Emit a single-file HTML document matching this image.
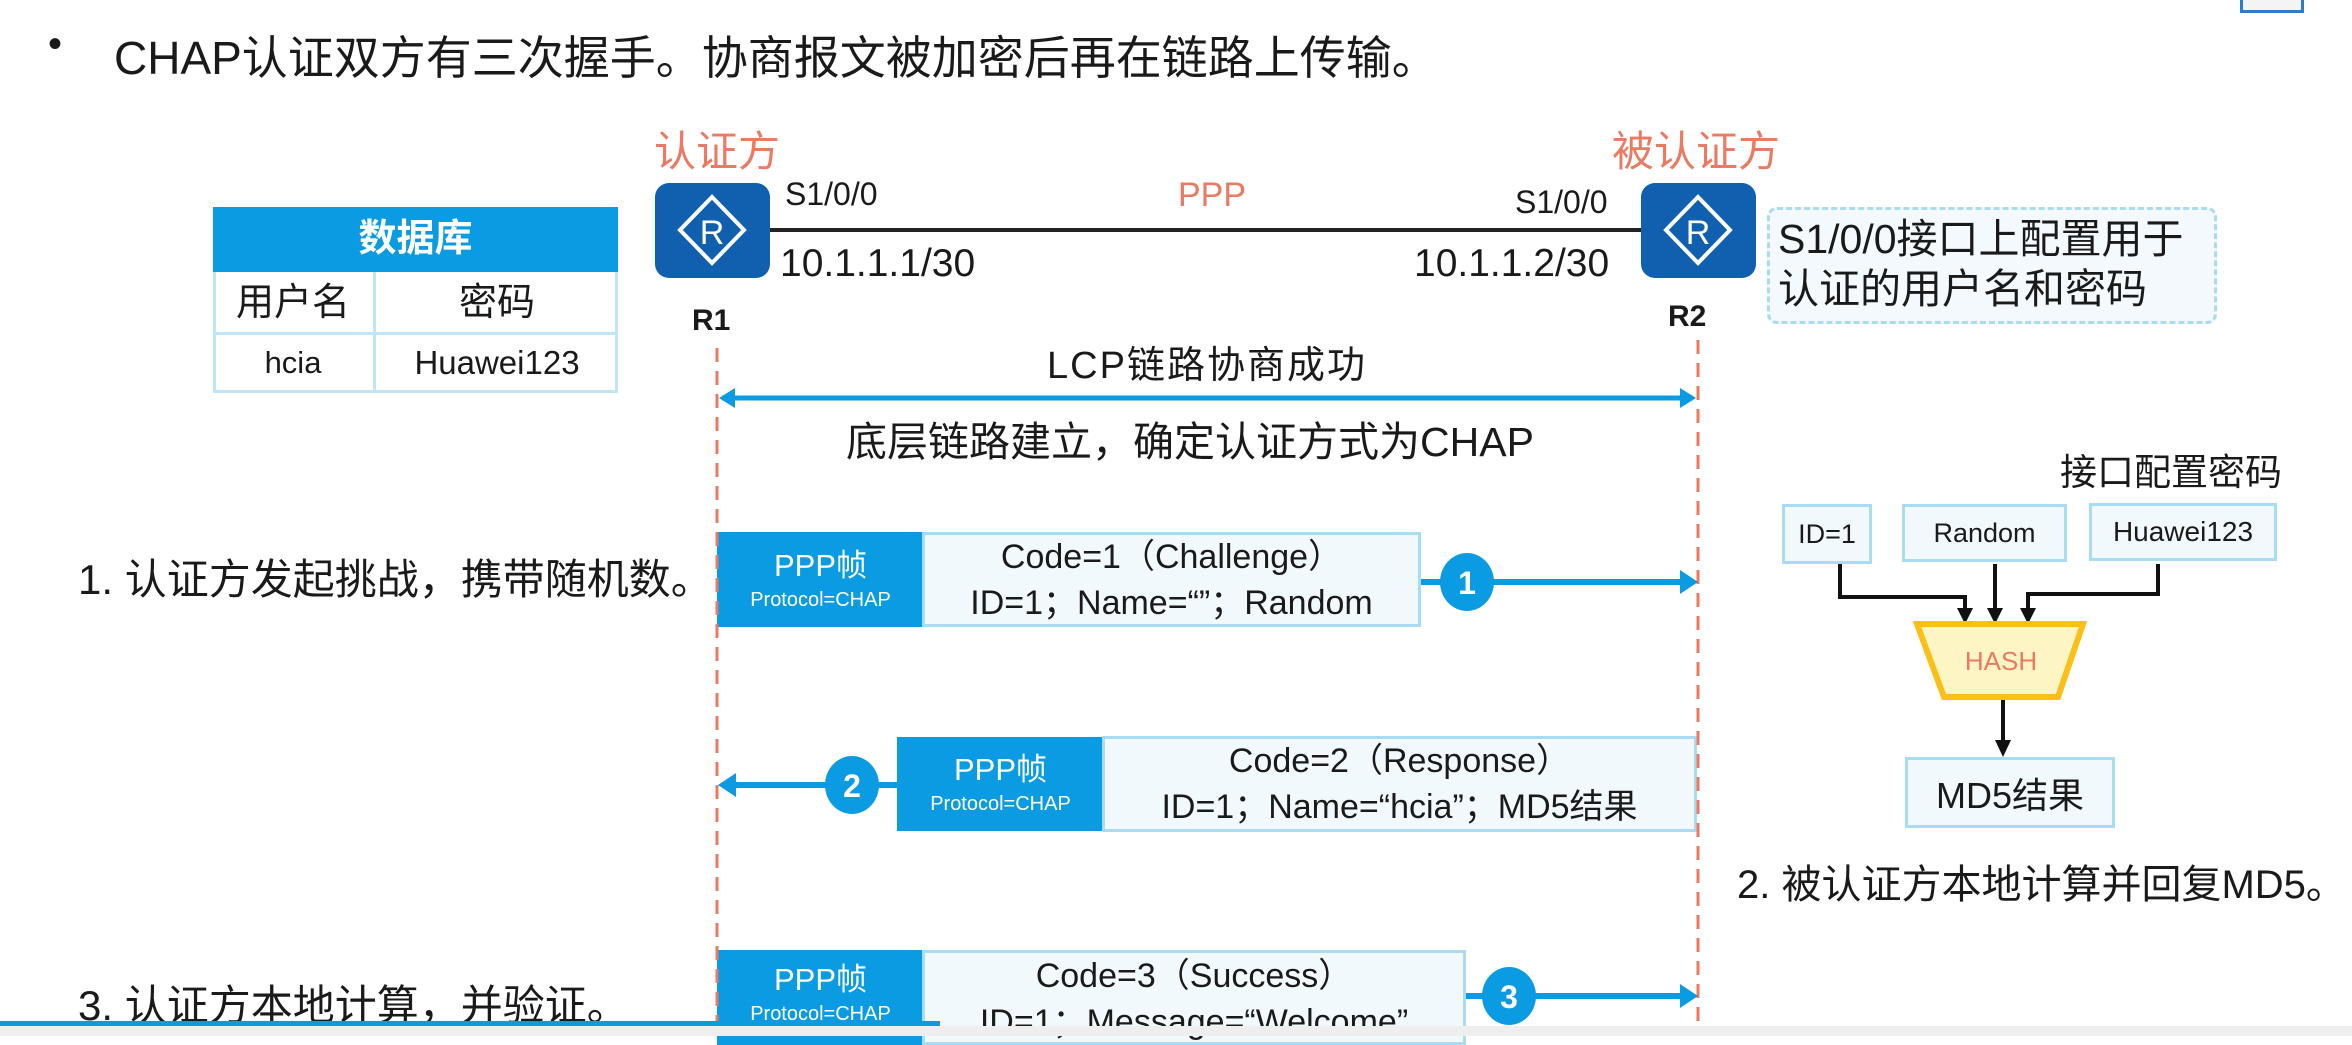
<!DOCTYPE html>
<html><head><meta charset="utf-8"><style>
body{margin:0;width:2352px;height:1036px;overflow:hidden;background:#fff;position:relative;font-family:"Liberation Sans","Noto Sans CJK SC",sans-serif;color:#1a1a1a}
.a{position:absolute;white-space:nowrap}
.c{text-align:center}
.or{color:#ec7a62}
.bx{position:absolute;border:3px solid #a9dcf3;background:#f2f9fd;box-sizing:border-box;display:flex;align-items:center;justify-content:center;flex-direction:column}
.pf{position:absolute;background:#0a9be3;color:#fff;box-sizing:border-box;display:flex;align-items:center;justify-content:center;flex-direction:column;text-align:center}
.pf b{font-weight:normal;font-size:31px;line-height:40px}
.pf i{font-style:normal;font-size:20px;line-height:28px}
.msg{font-size:34px;line-height:46px;text-align:center}
.rt{position:absolute;background:#1160b0;border-radius:14px}
</style></head><body>
<div class="a" style="left:48px;top:22px;font-size:40px">•</div>
<div class="a" style="left:114px;top:22px;font-size:46px">CHAP认证双方有三次握手。协商报文被加密后再在链路上传输。</div>
<div class="a" style="left:2240px;top:-3px;width:58px;height:10px;border:3px solid #2b7bd0;background:#f4f4f4"></div>

<div class="a or" style="left:654px;top:118px;font-size:42px">认证方</div>
<div class="a or" style="left:1612px;top:118px;font-size:42px">被认证方</div>

<div class="rt" style="left:655px;top:183px;width:115px;height:95px"></div>
<div class="rt" style="left:1641px;top:183px;width:115px;height:95px"></div>

<div class="a" style="left:785px;top:176px;font-size:32px">S1/0/0</div>
<div class="a or" style="left:1178px;top:176px;font-size:34px">PPP</div>
<div class="a" style="left:1515px;top:184px;font-size:32px">S1/0/0</div>
<div class="a" style="left:780px;top:242px;font-size:39px">10.1.1.1/30</div>
<div class="a" style="left:1414px;top:242px;font-size:39px">10.1.1.2/30</div>
<div class="a" style="left:692px;top:304px;font-size:30px;font-weight:bold">R1</div>
<div class="a" style="left:1668px;top:300px;font-size:30px;font-weight:bold">R2</div>

<!-- table -->
<div class="a" style="left:213px;top:207px;width:405px;height:186px;border:3px solid #bfe5f6;box-sizing:border-box;background:#fff"></div>
<div class="a c" style="left:213px;top:207px;width:405px;height:65px;background:#0a9be3;color:#fff;font-size:38px;font-weight:bold;line-height:65px">数据库</div>
<div class="a" style="left:213px;top:332px;width:405px;height:3px;background:#bfe5f6"></div>
<div class="a" style="left:373px;top:272px;width:3px;height:121px;background:#bfe5f6"></div>
<div class="a c" style="left:213px;top:278px;width:160px;font-size:38px;line-height:50px">用户名</div>
<div class="a c" style="left:376px;top:278px;width:242px;font-size:38px;line-height:50px">密码</div>
<div class="a c" style="left:213px;top:338px;width:160px;font-size:31px;line-height:50px">hcia</div>
<div class="a c" style="left:376px;top:338px;width:242px;font-size:33px;line-height:50px">Huawei123</div>

<!-- note -->
<div class="a" style="left:1767px;top:207px;width:450px;height:117px;border:3px dashed #a9dcf3;border-radius:10px;box-sizing:border-box;background:#f3f9fd"></div>
<div class="a" style="left:1778px;top:214px;font-size:41px;line-height:50px">S1/0/0接口上配置用于<br>认证的用户名和密码</div>

<div class="a c" style="left:800px;top:334px;width:814px;font-size:38px;letter-spacing:2px">LCP链路协商成功</div>
<div class="a c" style="left:740px;top:408px;width:900px;font-size:41px">底层链路建立，确定认证方式为CHAP</div>

<div class="a" style="left:2060px;top:442px;font-size:37px">接口配置密码</div>
<div class="bx" style="left:1782px;top:504px;width:90px;height:60px;font-size:27px">ID=1</div>
<div class="bx" style="left:1902px;top:504px;width:165px;height:58px;font-size:27px">Random</div>
<div class="bx" style="left:2089px;top:503px;width:188px;height:58px;font-size:28px">Huawei123</div>
<div class="bx" style="left:1905px;top:757px;width:210px;height:71px;font-size:36px">MD5结果</div>
<div class="a" style="left:1737px;top:852px;font-size:40px">2. 被认证方本地计算并回复MD5。</div>

<div class="a" style="left:78px;top:546px;font-size:42px">1. 认证方发起挑战，携带随机数。</div>
<div class="a" style="left:78px;top:972px;font-size:42px">3. 认证方本地计算，并验证。</div>

<!-- messages -->
<div class="pf" style="left:717px;top:532px;width:207px;height:95px"><b>PPP帧</b><i>Protocol=CHAP</i></div>
<div class="bx msg" style="left:922px;top:532px;width:499px;height:95px"><div>Code=1（Challenge）</div><div>ID=1；Name=“”；Random</div></div>
<div class="pf" style="left:897px;top:737px;width:207px;height:94px"><b>PPP帧</b><i>Protocol=CHAP</i></div>
<div class="bx msg" style="left:1102px;top:736px;width:595px;height:96px"><div>Code=2（Response）</div><div>ID=1；Name=“hcia”；MD5结果</div></div>
<div class="pf" style="left:717px;top:950px;width:207px;height:95px;justify-content:flex-start;padding-top:10px"><b>PPP帧</b><i>Protocol=CHAP</i></div>
<div class="bx msg" style="left:922px;top:950px;width:544px;height:95px;justify-content:flex-start;padding-top:0"><div>Code=3（Success）</div><div>ID=1；Message=“Welcome”</div></div>

<svg class="a" style="left:0;top:0" width="2352" height="1036">
<g fill="none" stroke="#fff" stroke-width="4">
<path d="M712,197L744,230L712,263L680,230Z"/><path d="M1698,197L1730,230L1698,263L1666,230Z"/>
</g>
<text x="712" y="244" fill="#fff" font-size="34" text-anchor="middle" font-family="Liberation Sans">R</text>
<text x="1698" y="244" fill="#fff" font-size="34" text-anchor="middle" font-family="Liberation Sans">R</text>
<line x1="770" y1="230" x2="1641" y2="230" stroke="#222" stroke-width="4"/>
<g stroke="#ec7a62" stroke-width="3" stroke-dasharray="14,9">
<line x1="717" y1="348" x2="717" y2="1036"/><line x1="1698" y1="340" x2="1698" y2="1036"/>
</g>
<line x1="722" y1="398" x2="1693" y2="398" stroke="#0a9be3" stroke-width="5"/>
<path d="M719,398L735,388L735,408Z" fill="#0a9be3"/><path d="M1696,398L1680,388L1680,408Z" fill="#0a9be3"/>
<g stroke="#0a9be3" stroke-width="6">
<line x1="1421" y1="582" x2="1682" y2="582"/>
<line x1="733" y1="785" x2="897" y2="785"/>
<line x1="1466" y1="996" x2="1682" y2="996"/>
</g>
<g fill="#0a9be3">
<path d="M1698,582L1680,570L1680,594Z"/><path d="M718,785L736,773L736,797Z"/><path d="M1698,996L1680,984L1680,1008Z"/>
<ellipse cx="1467" cy="582" rx="27" ry="29"/><ellipse cx="852" cy="785" rx="27" ry="29"/><ellipse cx="1509" cy="996" rx="27" ry="29"/>
</g>
<g fill="#fff" font-size="32" font-weight="bold" text-anchor="middle" font-family="Liberation Sans">
<text x="1467" y="594">1</text><text x="852" y="797">2</text><text x="1509" y="1008">3</text>
</g>
<g stroke="#111" stroke-width="4" fill="none">
<polyline points="1840,564 1840,597 1965,597 1965,612"/>
<polyline points="1995,564 1995,612"/>
<polyline points="2158,564 2158,594 2028,594 2028,612"/>
<line x1="2003" y1="697" x2="2003" y2="742"/>
</g>
<g fill="#111">
<path d="M1957,608L1973,608L1965,624Z"/><path d="M1987,608L2003,608L1995,624Z"/><path d="M2020,608L2036,608L2028,624Z"/><path d="M1995,740L2011,740L2003,757Z"/>
</g>
<path d="M1917,624L2083,624L2058,697L1944,697Z" fill="#fdf5c4" stroke="#fbbf18" stroke-width="6"/>
<text x="2001" y="670" fill="#ec7a62" font-size="26" text-anchor="middle" font-family="Liberation Sans">HASH</text>
<rect x="0" y="1026" width="2352" height="10" fill="#eeeeee"/>
<rect x="0" y="1021" width="940" height="5" fill="#1199dd"/>
</svg>
</body></html>
